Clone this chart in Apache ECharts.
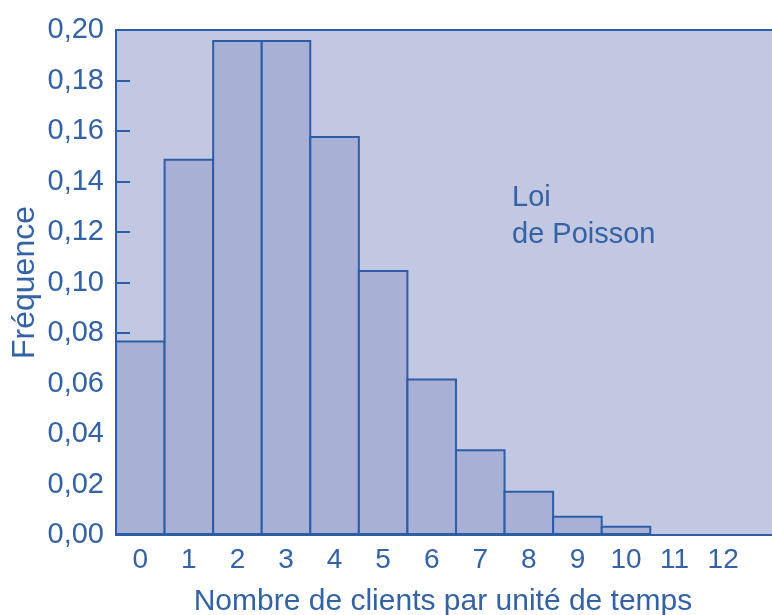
<!DOCTYPE html>
<html>
<head>
<meta charset="utf-8">
<script src="https://cdn.jsdelivr.net/npm/echarts@6/dist/echarts.min.js"></script>
<style>
  html, body { margin: 0; padding: 0; background: #fff; }
  #chart { width: 772px; height: 615px; }
</style>
</head>
<body>
<div id="chart"></div>
<script>
// catégories (nombre de clients) et fréquences
var categories = ['0', '1', '2', '3', '4', '5', '6', '7', '8', '9', '10', '11', '12', ''];
var frequences = [0.077, 0.149, 0.196, 0.196, 0.158, 0.105, 0.062, 0.034, 0.0175, 0.0076, 0.0037, 0, 0, null];
var yTicks = { min: 0, max: 0.2, interval: 0.02 };

var bleu = '#2c5ea8';
var texte = '#3462a6';
var police = '"Liberation Sans", Arial, sans-serif';

var chart = echarts.init(document.getElementById('chart'));

var option = {
    animation: false,
    title: {
        text: 'Loi\nde Poisson',
        left: 507,
        top: 174,
        textStyle: {
            color: texte,
            fontFamily: police,
            fontWeight: 'normal',
            fontSize: 29,
            lineHeight: 37
        }
    },
    grid: {
        show: true,
        left: 116,
        top: 30,
        right: -24,
        bottom: 80,
        outerBoundsMode: 'none',
        containLabel: false,
        backgroundColor: '#c3c8e2',
        borderColor: bleu,
        borderWidth: 2
    },
    xAxis: {
        type: 'category',
        data: categories,
        name: 'Nombre de clients par unité de temps',
        nameLocation: 'middle',
        nameGap: 52,
        nameMoveOverlap: false,
        nameTextStyle: { color: texte, fontFamily: police, fontSize: 30, padding: [0, 26, 0, 0] },
        axisLine: { lineStyle: { color: bleu, width: 2 } },
        axisTick: { show: false },
        axisLabel: { color: texte, fontFamily: police, fontSize: 28, margin: 11 },
        splitLine: { show: false }
    },
    yAxis: {
        type: 'value',
        min: yTicks.min,
        max: yTicks.max,
        interval: yTicks.interval,
        name: 'Fréquence',
        nameLocation: 'middle',
        nameGap: 75,
        nameMoveOverlap: false,
        nameTextStyle: { color: texte, fontFamily: police, fontSize: 32 },
        axisLine: { show: true, lineStyle: { color: bleu, width: 2 } },
        axisTick: { show: true, inside: true, length: 14, lineStyle: { color: bleu, width: 2 } },
        axisLabel: {
            color: texte,
            fontFamily: police,
            fontSize: 29,
            margin: 12,
            formatter: function (v) { return v.toFixed(2).replace('.', ','); }
        },
        splitLine: { show: false }
    },
    series: [{
        type: 'bar',
        data: frequences,
        barWidth: '104%',
        itemStyle: {
            color: '#a9b0d6',
            borderColor: bleu,
            borderWidth: 2
        }
    }]
};

chart.setOption(option);
</script>
</body>
</html>
